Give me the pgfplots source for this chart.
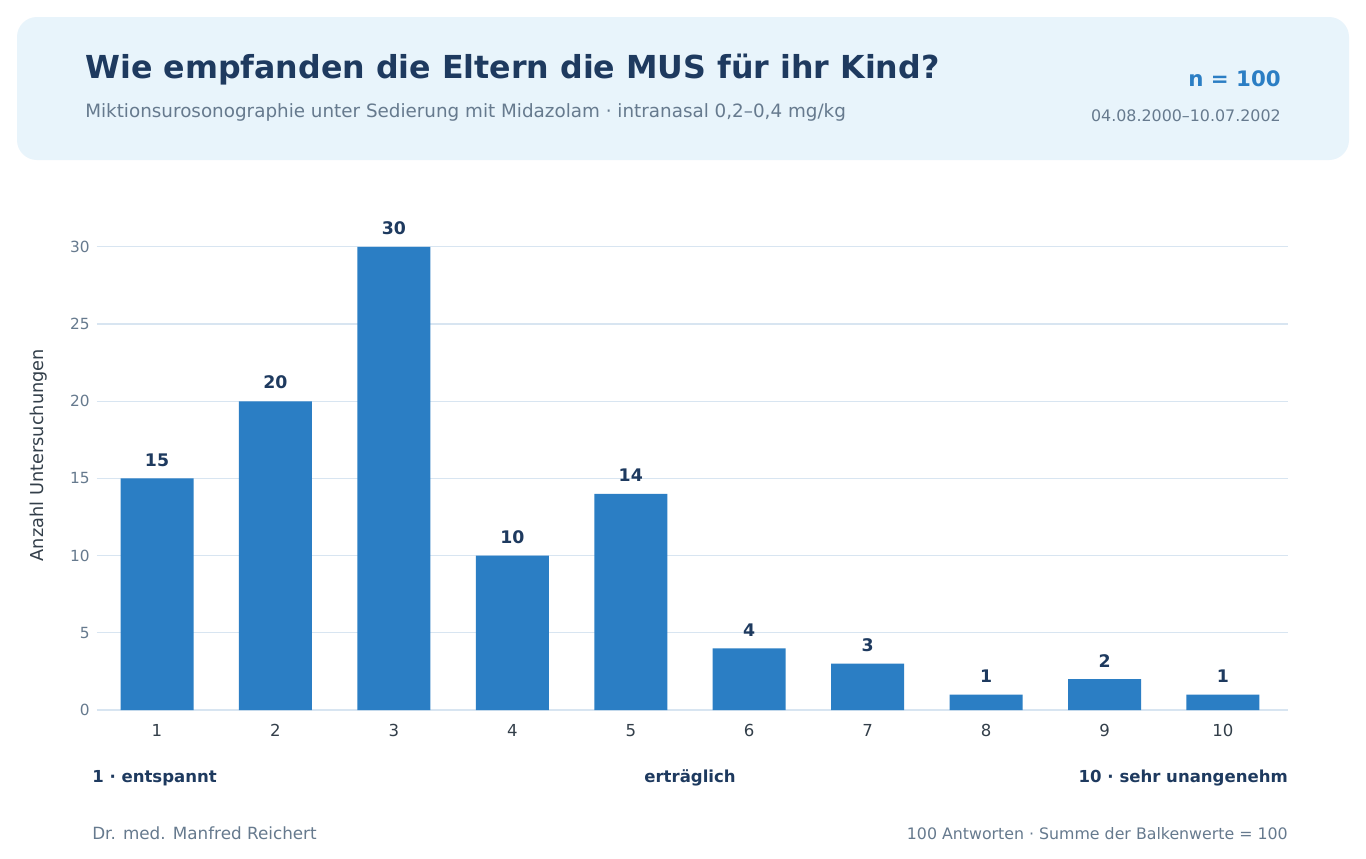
\documentclass[border=0pt]{standalone}
\usepackage{pgfplots}
\pgfplotsset{compat=1.18}
\usepackage{fontspec}
\setmainfont{DejaVu Sans}
\definecolor{navy}{HTML}{1E3A5F}
\definecolor{subgray}{HTML}{667A8E}
\definecolor{barblue}{HTML}{2B7EC4}
\definecolor{headbg}{HTML}{E8F4FB}
\definecolor{gridc}{HTML}{D8E5F1}
\definecolor{darktxt}{HTML}{333F4A}
\newcommand{\fs}[1]{\fontsize{#1}{#1}\selectfont}
\begin{document}
\begin{tikzpicture}[x=0.75pt,y=-0.75pt]
\path[use as bounding box,fill=white] (0,0) rectangle (1366,858);
\fill[headbg,rounded corners=15pt] (17,17) rectangle (1349,160);
\node[anchor=base west,text=navy,inner sep=0] at (85,78) {\fs{23.75pt}\bfseries Wie empfanden die Eltern die MUS für ihr Kind?};
\node[anchor=base west,text=subgray,inner sep=0] at (85,117) {\fs{13.75pt}Miktionsurosonographie unter Sedierung mit Midazolam · intranasal 0,2–0,4 mg/kg};
\node[anchor=base east,text=barblue,inner sep=0] at (1281,86) {\fs{16pt}\bfseries n = 100};
\node[anchor=base east,text=subgray,inner sep=0] at (1281,121) {\fs{11.9pt}04.08.2000–10.07.2002};
\begin{axis}[
  at={(72.75pt,-532.5pt)}, anchor=south west,
  scale only axis, width=893.25pt, height=370.5pt,
  xmin=0.4934, xmax=10.549, ymin=0, ymax=32,
  axis line style={draw=none},
  xtick={1,...,10}, ytick={0,5,...,30},
  ymajorgrids, grid style={gridc, line width=0.9pt},
  major tick length=0pt,
  xticklabel style={text=darktxt, font=\fs{12.4pt}, yshift=-7.5pt},
  yticklabel style={text=subgray, font=\fs{11.5pt}, xshift=-2pt},
  /pgf/number format/assume math mode=true,
  ylabel={Anzahl Untersuchungen},
  every axis y label/.style={at={(axis description cs:-0.0487,0.516)}, rotate=90, anchor=center, text=darktxt, font=\fs{13.3pt}},
  ybar, bar width=54.75pt, bar shift=0pt,
  nodes near coords,
  every node near coord/.append style={text=navy, font=\fs{13pt}\bfseries, yshift=5.5pt},
  clip=false,
]
\addplot[fill=barblue, draw=none] coordinates {(1,15) (2,20) (3,30) (4,10) (5,14) (6,4) (7,3) (8,1) (9,2) (10,1)};
\end{axis}
\node[anchor=base west,text=navy,inner sep=0] at (92,782) {\fs{12.4pt}\bfseries 1 · entspannt};
\node[anchor=base,text=navy,inner sep=0] at (690,782) {\fs{12.4pt}\bfseries erträglich};
\node[anchor=base east,text=navy,inner sep=0] at (1288,782) {\fs{12.4pt}\bfseries 10 · sehr unangenehm};
\node[anchor=base west,text=subgray,inner sep=0] at (92,839) {\fs{12.6pt}Dr. med. Manfred Reichert};
\node[anchor=base east,text=subgray,inner sep=0] at (1288,839) {\fs{11.85pt}100 Antworten · Summe der Balkenwerte = 100};
\end{tikzpicture}
\end{document}
